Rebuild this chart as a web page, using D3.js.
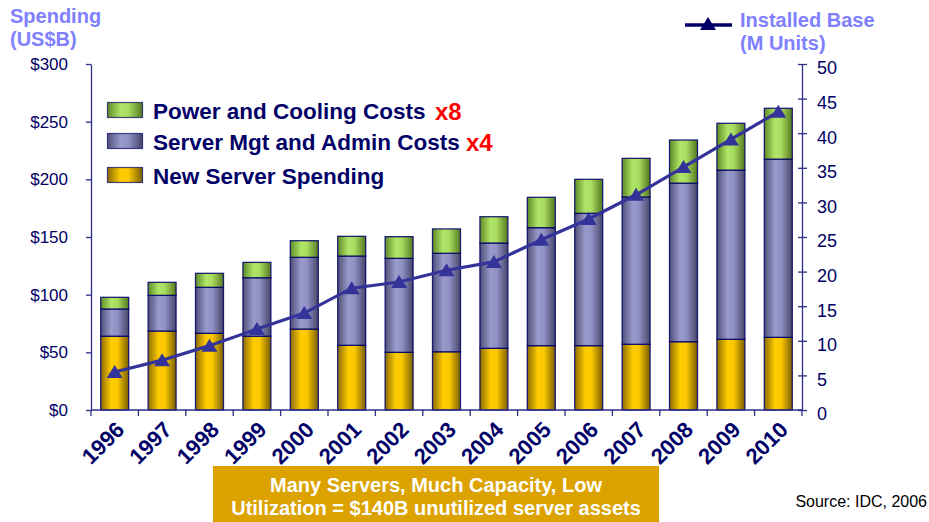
<!DOCTYPE html>
<html>
<head>
<meta charset="utf-8">
<script src="https://cdn.jsdelivr.net/npm/d3@7"></script>
<style>
    body { margin: 0; background: #fff; }
    svg { display: block; font-family: "Liberation Sans", Arial, sans-serif; }
</style>
</head>
<body>
<div id="chart"></div>
<script>
const years = ['1996', '1997', '1998', '1999', '2000', '2001', '2002', '2003',
    '2004', '2005', '2006', '2007', '2008', '2009', '2010'];
const newServer = [64, 68.5, 66.5, 64, 70.2, 56.1, 50, 50.5, 53.5, 55.8, 55.8, 57, 59.2, 61.3, 63];
const mgtAdmin = [23.6, 30.9, 39.9, 50.7, 62.2, 77.4, 81.5, 85.4, 91.3, 102.3, 114.7, 127.7, 137.5, 146.7, 154.5];
const powerCooling = [10.1, 11.3, 12.1, 13.3, 14.4, 17.1, 18.8, 21.1, 22.8, 26.3, 29.5, 33.5, 37.4, 40.6, 44.1];
const installedBase = [5.5, 7.2, 9.3, 11.7, 14.0, 17.6, 18.5, 20.2, 21.4, 24.6, 27.6, 31.1, 35.1, 39.1, 43.1];
const spendTicks = [0, 50, 100, 150, 200, 250, 300];
const unitTicks = [0, 5, 10, 15, 20, 25, 30, 35, 40, 45, 50];

(function () {

    const W = 929, H = 522;
    const navy = '#000066';
    const axisCol = '#2e2e88';

    const svg = d3.select('#chart')
        .append('svg')
        .attr('width', W)
        .attr('height', H);

    // gradients for bars: dark edges, light stripe left of centre
    const defs = svg.append('defs');
    const grads = {
        yellow: ['#8c6c00', '#ffcc00', '#fbc800', '#7a5e00'],
        purple: ['#505078', '#9a9acc', '#9090c4', '#46466a'],
        green: ['#5f8a26', '#b0e668', '#a8dc60', '#55781f']
    };
    Object.entries(grads).forEach(([k, c]) => {
        const g = defs.append('linearGradient')
            .attr('id', 'g-' + k)
            .attr('x1', 0).attr('x2', 1).attr('y1', 0).attr('y2', 0);
        [[0, c[0]], [0.38, c[1]], [0.6, c[2]], [1, c[3]]].forEach(s => {
            g.append('stop').attr('offset', s[0]).attr('stop-color', s[1]);
        });
    });

    const series = [
        { name: 'New Server Spending', vals: newServer, fill: 'url(#g-yellow)' },
        { name: 'Server Mgt and Admin Costs', vals: mgtAdmin, fill: 'url(#g-purple)' },
        { name: 'Power and Cooling Costs', vals: powerCooling, fill: 'url(#g-green)' }
    ];

    // scales
    const x = d3.scaleBand()
        .domain(years)
        .range([91, 802])
        .paddingInner(0.41)
        .paddingOuter(0.205);

    const y = d3.scaleLinear()
        .domain([0, 300])
        .range([410, 64]);

    const y2 = d3.scaleLinear()
        .domain([0, 50])
        .range([410, 64]);

    // stacked data
    const table = years.map((yr, i) => {
        const row = { year: yr };
        series.forEach(s => row[s.name] = s.vals[i]);
        return row;
    });
    const stacked = d3.stack().keys(series.map(s => s.name))(table);

    svg.append('g')
        .selectAll('g')
        .data(stacked)
        .enter()
        .append('g')
        .attr('fill', (d, i) => series[i].fill)
        .selectAll('rect')
        .data(d => d)
        .enter()
        .append('rect')
        .attr('x', d => x(d.data.year))
        .attr('width', x.bandwidth())
        .attr('y', d => y(d[1]))
        .attr('height', d => y(d[0]) - y(d[1]))
        .attr('stroke', '#000066')
        .attr('stroke-opacity', 0.85)
        .attr('stroke-width', 1.3);

    // left axis
    const ax = svg.append('g')
        .attr('transform', 'translate(91,0)')
        .call(d3.axisLeft(y)
            .tickValues(spendTicks)
            .tickFormat(d => '$' + d)
            .tickSize(5)
            .tickSizeOuter(0)
            .tickPadding(18));
    ax.selectAll('text')
        .attr('fill', navy)
        .style('font-size', '17px');

    // right axis, ticks cross the line
    const ax2 = svg.append('g')
        .attr('transform', 'translate(802,0)')
        .call(d3.axisRight(y2)
            .tickValues(unitTicks)
            .tickSize(5)
            .tickSizeOuter(0)
            .tickPadding(10));
    ax2.selectAll('.tick line').attr('x1', -4);
    ax2.selectAll('text')
        .attr('fill', navy)
        .attr('dy', '0.55em')
        .style('font-size', '18px');

    [ax, ax2].forEach(a => {
        a.select('.domain').attr('stroke', axisCol).attr('stroke-width', 1.3);
        a.selectAll('.tick line').attr('stroke', axisCol).attr('stroke-width', 1.3);
    });

    // x axis: line, ticks between categories, rotated labels
    const step = x.step();
    const bounds = years.map(d => x(d) + x.bandwidth() / 2 - step / 2)
        .concat([x(years[years.length - 1]) + x.bandwidth() / 2 + step / 2]);

    const xa = svg.append('g');
    xa.append('line')
        .attr('x1', 91).attr('x2', 802)
        .attr('y1', 410).attr('y2', 410)
        .attr('stroke', axisCol)
        .attr('stroke-width', 1.3);
    xa.selectAll('line.tk')
        .data(bounds)
        .enter()
        .append('line')
        .attr('class', 'tk')
        .attr('x1', d => d).attr('x2', d => d)
        .attr('y1', 410).attr('y2', 416)
        .attr('stroke', axisCol)
        .attr('stroke-width', 1.3);
    xa.selectAll('text')
        .data(years)
        .enter()
        .append('text')
        .attr('transform', d => `translate(${x(d) + x.bandwidth() / 2 + 11},431) rotate(-45)`)
        .attr('text-anchor', 'end')
        .attr('fill', navy)
        .style('font-size', '22px')
        .style('font-weight', 'bold')
        .text(d => d);

    // installed base line
    const line = d3.line()
        .x((d, i) => x(years[i]) + x.bandwidth() / 2)
        .y(d => y2(d));

    svg.append('path')
        .datum(installedBase)
        .attr('d', line)
        .attr('fill', 'none')
        .attr('stroke', '#333399')
        .attr('stroke-width', 3.2);

    const tri = 'M0,-7L8,6L-8,6Z';
    svg.selectAll('path.mk')
        .data(installedBase)
        .enter()
        .append('path')
        .attr('class', 'mk')
        .attr('d', tri)
        .attr('fill', '#333399')
        .attr('transform', (d, i) => `translate(${x(years[i]) + x.bandwidth() / 2},${y2(d)})`);

    // axis titles
    const title = (tx, ty, lines) => {
        const t = svg.append('text')
            .attr('x', tx).attr('y', ty)
            .attr('fill', '#8080ff')
            .style('font-size', '20px')
            .style('font-weight', 'bold');
        lines.forEach((s, i) => t.append('tspan')
            .attr('x', tx)
            .attr('dy', i ? 23 : 0)
            .text(s));
    };
    title(10, 22.5, ['Spending', '(US$B)']);
    title(740, 26.5, ['Installed Base', '(M Units)']);

    // line legend
    svg.append('line')
        .attr('x1', 685).attr('x2', 732)
        .attr('y1', 25).attr('y2', 25)
        .attr('stroke', navy)
        .attr('stroke-width', 3.5);
    svg.append('path')
        .attr('d', tri)
        .attr('fill', navy)
        .attr('transform', 'translate(708,24)');

    // bar legend
    const legend = [
        { s: series[2], y: 102.5, extra: 'x8', ex: 435 },
        { s: series[1], y: 133.5, extra: 'x4', ex: 466 },
        { s: series[0], y: 167.5, extra: null }
    ];
    const lg = svg.append('g')
        .selectAll('g')
        .data(legend)
        .enter()
        .append('g');
    lg.append('rect')
        .attr('x', 107.5).attr('y', d => d.y)
        .attr('width', 35).attr('height', 15)
        .attr('fill', d => d.s.fill)
        .attr('stroke', '#000066')
        .attr('stroke-opacity', 0.7)
        .attr('stroke-width', 1.2);
    lg.append('text')
        .attr('x', 153).attr('y', d => d.y + 16.5)
        .attr('fill', navy)
        .style('font-size', '22.5px')
        .style('font-weight', 'bold')
        .text(d => d.s.name);
    lg.filter(d => d.extra)
        .append('text')
        .attr('x', d => d.ex).attr('y', d => d.y + 17)
        .attr('fill', '#ff0000')
        .style('font-size', '24px')
        .style('font-weight', 'bold')
        .text(d => d.extra);

    // call-out box
    svg.append('rect')
        .attr('x', 213).attr('y', 466)
        .attr('width', 446).attr('height', 56)
        .attr('fill', '#dba200');
    svg.append('text')
        .attr('text-anchor', 'middle')
        .attr('fill', '#fff')
        .style('font-size', '20px')
        .style('font-weight', 'bold')
        .selectAll('tspan')
        .data(['Many Servers, Much Capacity, Low', 'Utilization = $140B unutilized server assets'])
        .enter()
        .append('tspan')
        .attr('x', 436)
        .attr('y', (d, i) => i ? 515 : 491.5)
        .text(d => d);

    svg.append('text')
        .attr('x', 927).attr('y', 507)
        .attr('text-anchor', 'end')
        .attr('fill', '#000')
        .style('font-size', '16px')
        .text('Source: IDC, 2006');

})();
</script>
</body>
</html>
